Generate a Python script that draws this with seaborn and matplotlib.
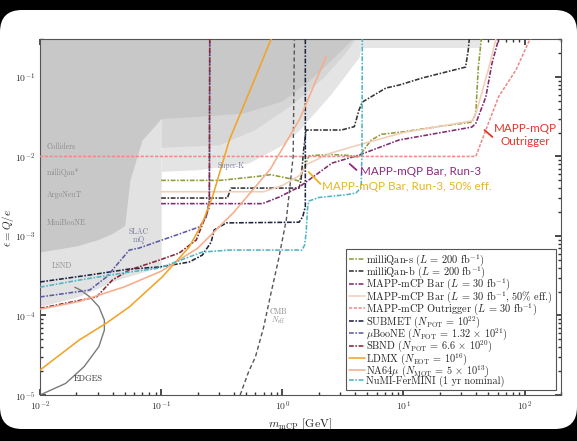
import numpy as np
import matplotlib
matplotlib.use("Agg")
import matplotlib.pyplot as plt
import seaborn as sns
import pandas as pd
from matplotlib.patches import FancyBboxPatch

sns.set_theme(style="ticks")
plt.rcParams['font.family'] = ['cmr10', 'DejaVu Serif']
plt.rcParams['mathtext.fontset'] = 'cm'
plt.rcParams['axes.formatter.use_mathtext'] = True
plt.rcParams['axes.unicode_minus'] = False

# ---------------- data (m in GeV, eps = Q/e) ----------------
mq_s_m   = [0.1, 0.307, 0.617, 0.80, 1.20, 1.377, 1.529, 1.66, 2.49, 3.54, 4.30, 4.58, 5.4, 6.6, 10.1, 20.3, 36.7, 39.6, 41.5, 44.0]
mq_s_e   = [5.0e-3, 5.0e-3, 5.6e-3, 5.9e-3, 5.2e-3, 4.9e-3, 7.4e-3, 1.02e-2, 1.06e-2, 1.03e-2, 9.8e-3, 1.14e-2, 1.6e-2, 1.9e-2, 2.05e-2, 2.4e-2, 2.7e-2, 3.5e-2, 0.13, 0.3]

mq_b_m   = [0.1, 0.352, 0.378, 1.377, 1.427, 1.50, 1.573, 3.08, 3.93, 4.30, 4.58, 7.16, 9.21, 14.3, 32.6, 34.3, 35.0]
mq_b_e   = [3.0e-3, 3.0e-3, 4.0e-3, 4.0e-3, 5.0e-3, 1.2e-2, 2.15e-2, 2.15e-2, 2.37e-2, 3.83e-2, 4.83e-2, 7.25e-2, 7.9e-2, 9.7e-2, 0.133, 0.218, 0.3]

mapp_m   = [0.1, 0.686, 0.944, 1.377, 2.58, 4.30, 9.2, 36.7, 39.6, 47.9, 53.9, 61.1]
mapp_e   = [2.55e-3, 2.55e-3, 3.09e-3, 4.12e-3, 8.26e-3, 1.04e-2, 1.61e-2, 2.34e-2, 2.6e-2, 5.6e-2, 0.149, 0.3]

mapp50_m = [0.1, 0.70, 1.0, 1.4, 1.6, 2.5, 4.3, 10.0, 36.7, 40.0, 50.0, 58.0]
mapp50_e = [3.6e-3, 3.6e-3, 4.3e-3, 5.8e-3, 8.0e-3, 1.1e-2, 1.4e-2, 2.0e-2, 2.8e-2, 3.6e-2, 0.12, 0.3]

outr_m   = [0.01, 39.6, 47.9, 61.1, 84.9, 108.0, 112.0]
outr_e   = [1.0e-2, 1.0e-2, 2.15e-2, 5.64e-2, 0.122, 0.274, 0.3]

submet_m = [0.01, 0.0257, 0.0546, 0.0969, 0.1706, 0.219, 0.259, 0.274, 0.345, 1.377, 1.476, 1.55, 1.55]
submet_e = [2.64e-4, 3.23e-4, 3.84e-4, 4.07e-4, 4.70e-4, 5.75e-4, 8.39e-4, 1.19e-3, 1.46e-3, 1.49e-3, 1.75e-3, 2.33e-3, 0.3]

uboone_m = [0.01, 0.0257, 0.0354, 0.0546, 0.0659, 0.102, 0.149, 0.207, 0.235, 0.25, 0.252]
uboone_e = [1.71e-4, 2.09e-4, 3.05e-4, 6.65e-4, 7.05e-4, 8.9e-4, 1.09e-3, 1.30e-3, 1.71e-3, 2.83e-3, 0.3]

sbnd_m   = [0.01, 0.0293, 0.0396, 0.0546, 0.0969, 0.141, 0.195, 0.25, 0.252]
sbnd_e   = [1.23e-4, 1.71e-4, 2.79e-4, 3.73e-4, 4.98e-4, 6.10e-4, 8.9e-4, 2.31e-3, 0.3]

ldmx_m   = [0.01, 0.0211, 0.0354, 0.0546, 0.102, 0.1706, 0.219, 0.265, 0.366, 0.588, 0.809]
ldmx_e   = [2.06e-5, 4.92e-5, 8.04e-5, 1.28e-4, 3.05e-4, 7.27e-4, 1.46e-3, 3.09e-3, 1.61e-2, 9.14e-2, 0.3]

na64_m   = [0.01, 0.0211, 0.05, 0.1, 0.2, 0.4, 0.8, 1.4, 2.3]
na64_e   = [1.2e-4, 1.5e-4, 2.3e-4, 3.6e-4, 7.0e-4, 2.0e-3, 7.0e-3, 3.0e-2, 0.18]

fermini_m = [0.01, 0.0211, 0.0546, 0.0969, 0.219, 0.366, 1.455, 1.529, 1.573, 1.62, 1.66, 2.01, 3.37, 4.06, 4.48, 4.55, 4.58]
fermini_e = [2.27e-4, 2.79e-4, 3.52e-4, 3.95e-4, 6.28e-4, 6.65e-4, 6.65e-4, 7.69e-4, 1.08e-3, 2.33e-3, 2.75e-3, 3.05e-3, 3.30e-3, 3.47e-3, 4.08e-3, 1.2e-2, 0.3]

edges_m  = [0.01, 0.0163, 0.0231, 0.0306, 0.034, 0.034, 0.0306, 0.0257, 0.0216, 0.0194]
edges_e  = [1.0e-5, 1.4e-5, 2.27e-5, 4.05e-5, 6.56e-5, 8.77e-5, 1.29e-4, 1.72e-4, 2.09e-4, 2.26e-4]

cmb_m    = [0.449, 0.53, 0.60, 0.70, 0.80, 0.93, 1.08, 1.23, 1.26]
cmb_e    = [1.0e-5, 2.0e-5, 3.0e-5, 7.0e-5, 1.8e-4, 5.0e-4, 1.6e-3, 1.0e-2, 0.3]

# shaded excluded regions: lower boundaries (filled up to the top of the plot)
light_m  = [0.01, 0.02, 0.03, 0.0431, 0.07, 0.1]
light_e  = [1.3e-4, 1.7e-4, 2.2e-4, 2.8e-4, 3.5e-4, 4.1e-4]
superk_m = [0.1, 0.2, 0.53, 1.0, 1.38, 2.5, 4.3, 4.6]
superk_e = [6.5e-3, 6.8e-3, 8.3e-3, 1.4e-2, 2.15e-2, 6.0e-2, 0.177, 0.3]
band_m   = [4.3, 44.0]
band_e   = [0.23, 0.23]
mid_m    = [0.1, 0.3, 0.6, 1.2, 2.2, 3.3, 4.0]
mid_e    = [1.3e-2, 1.4e-2, 2.2e-2, 4.5e-2, 0.1, 0.2, 0.3]
dark_m   = [0.01, 0.02, 0.03, 0.0396, 0.05, 0.0552, 0.0694, 0.1, 0.2, 0.47, 1.0, 1.66, 2.5, 3.8]
dark_e   = [6.3e-4, 7.5e-4, 9.0e-4, 1.08e-3, 1.35e-3, 5.0e-3, 1.6e-2, 3.0e-2, 3.2e-2, 3.5e-2, 5.0e-2, 9.0e-2, 0.16, 0.3]

TOP = 0.3

# ---------------- figure ----------------
fig = plt.figure(figsize=(5.77, 4.41), dpi=100, facecolor='black')
bg = FancyBboxPatch((0.0, 12.0), 577.0, 419.0, boxstyle="round,pad=0,rounding_size=22",
                    transform=None, facecolor='white', edgecolor='none', zorder=-10)
fig.add_artist(bg)
ax = fig.add_axes([40/577, 1-395/441, 521/577, 356/441])
ax.set_zorder(1)
ax.set_xscale('log'); ax.set_yscale('log')
ax.set_xlim(0.01, 200); ax.set_ylim(1e-5, TOP)
ax.set_facecolor('white')

def region(m, e, color):
    ax.fill_between(m, e, [TOP]*len(m), color=color, lw=0, zorder=1)

region(light_m, light_e, '#e2e2e2')
region(superk_m, superk_e, '#e4e4e4')
region(band_m, band_e, '#e6e6e6')
region(mid_m, mid_e, '#d6d6d6')
region(dark_m, dark_e, '#c8c8c8')

dd = (0, (3, 1, 1, 1))
curves = [
    (mq_s_m, mq_s_e, '#8f9b3a', dd, r'milliQan-s ($L$ = 200 fb$^{-1}$)'),
    (mq_b_m, mq_b_e, '#333333', dd, r'milliQan-b ($L$ = 200 fb$^{-1}$)'),
    (mapp_m, mapp_e, '#82296f', dd, r'MAPP-mCP Bar ($L$ = 30 fb$^{-1}$)'),
    (mapp50_m, mapp50_e, '#f2cdb8', '-', r'MAPP-mCP Bar ($L$ = 30 fb$^{-1}$, 50% eff.)'),
    (outr_m, outr_e, '#f08a8a', (0, (2, 1)), r'MAPP-mCP Outrigger ($L$ = 30 fb$^{-1}$)'),
    (submet_m, submet_e, '#1d2442', dd, r'SUBMET ($N_{\rm POT}$ = 10$^{22}$)'),
    (uboone_m, uboone_e, '#5b5ba6', dd, r'$\mu$BooNE ($N_{\rm POT}$ = 1.32 $\times$ 10$^{21}$)'),
    (sbnd_m, sbnd_e, '#8a2436', dd, r'SBND ($N_{\rm POT}$ = 6.6 $\times$ 10$^{20}$)'),
    (ldmx_m, ldmx_e, '#f0a428', '-', r'LDMX ($N_{\rm EOT}$ = 10$^{16}$)'),
    (na64_m, na64_e, '#f6ad8a', '-', r'NA64$\mu$ ($N_{\rm MOT}$ = 5 $\times$ 10$^{13}$)'),
    (fermini_m, fermini_e, '#4cb6c4', dd, r'NuMI-FerMINI (1 yr nominal)'),
]
for m, e, c, ls, lab in curves:
    df = pd.DataFrame({'m': m, 'eps': e})
    sns.lineplot(data=df, x='m', y='eps', sort=False, estimator=None, color=c,
                 linestyle=ls, lw=1.15, label=lab, ax=ax, zorder=3)

df = pd.DataFrame({'m': edges_m, 'eps': edges_e})
sns.lineplot(data=df, x='m', y='eps', sort=False, estimator=None, color='#7a7a7a', lw=1.0, ax=ax, zorder=2)
df = pd.DataFrame({'m': cmb_m, 'eps': cmb_e})
sns.lineplot(data=df, x='m', y='eps', sort=False, estimator=None, color='#555555', lw=1.0,
             linestyle=(0, (3, 2)), ax=ax, zorder=2)

# region labels
lab_kw = dict(fontsize=5.5, color='#8a8a8a', ha='left', va='center', zorder=2)
ax.text(0.0114, 1.32e-2, 'Colliders', **lab_kw)
ax.text(0.0114, 6.2e-3, 'milliQan*', **lab_kw)
ax.text(0.0114, 3.3e-3, 'ArgoNeuT', **lab_kw)
ax.text(0.0114, 1.46e-3, 'MiniBooNE', **lab_kw)
ax.text(0.0125, 4.2e-4, 'LSND', **lab_kw)
ax.text(0.0655, 1.0e-3, 'SLAC\nmQ', fontsize=5.5, color='#7777a0', ha='center', va='center', linespacing=0.9)
ax.text(0.38, 7.6e-3, 'Super-K', fontsize=5.5, color='#7777a0', ha='center', va='center')
ax.text(0.92, 9.6e-5, 'CMB\n$N_{\\rm eff}$', fontsize=5.5, color='#8a8a8a', ha='center', va='center', linespacing=0.9)
ax.text(0.019, 1.6e-5, 'EDGES', fontsize=6, color='#333333', fontweight='bold', ha='left', va='center')

# annotations
ann = dict(fontsize=8.4, family=['Lato', 'DejaVu Sans'])
red, purple, gold = '#e5332a', '#8b2a7e', '#e9b51e'
ax.text(101.6, 0.0186, 'MAPP-mQP\nOutrigger', color=red, ha='center', va='center', linespacing=1.25, **ann)
ax.annotate('', xy=(46.7, 0.0215), xytext=(54.3, 0.0176),
            arrowprops=dict(arrowstyle='-', color=red, lw=1.3, shrinkA=0, shrinkB=0))
ax.text(4.35, 6.38e-3, 'MAPP-mQP Bar, Run-3', color=purple, ha='left', va='center', **ann)
ax.annotate('', xy=(3.6, 8.05e-3), xytext=(4.1, 6.76e-3),
            arrowprops=dict(arrowstyle='-', color=purple, lw=1.3, shrinkA=0, shrinkB=0))
ax.text(2.11, 4.13e-3, 'MAPP-mQP Bar, Run-3, 50% eff.', color=gold, ha='left', va='center', **ann)
ax.annotate('', xy=(1.65, 6.38e-3), xytext=(2.07, 4.5e-3),
            arrowprops=dict(arrowstyle='-', color=gold, lw=1.3, shrinkA=0, shrinkB=0))

ax.set_xlabel(r'$m_{\rm mCP}$ [GeV]', fontsize=8.5, labelpad=3)
ax.set_ylabel(r'$\epsilon = Q/e$', fontsize=8)
ax.yaxis.set_label_coords(-0.046, 0.47)
ax.tick_params(which='both', direction='in', top=True, right=True, labelsize=7, colors='#333333', pad=3)
ax.tick_params(which='major', length=4)
ax.tick_params(which='minor', length=2)
ax.set_xticks([1e-2, 1e-1, 1, 10, 100])
for s in ax.spines.values():
    s.set_color('#555555'); s.set_linewidth(0.8)

leg = ax.legend(loc='lower right', bbox_to_anchor=(0.99, 0.014), fontsize=7.4, frameon=True,
                fancybox=False, edgecolor='#555555', framealpha=1, handlelength=1.5,
                handletextpad=0.15, labelspacing=-0.34, borderpad=0.3, borderaxespad=0)
leg.get_frame().set_linewidth(0.8)
leg.set_zorder(5)

fig.savefig('out.png', dpi=100, facecolor='black')
